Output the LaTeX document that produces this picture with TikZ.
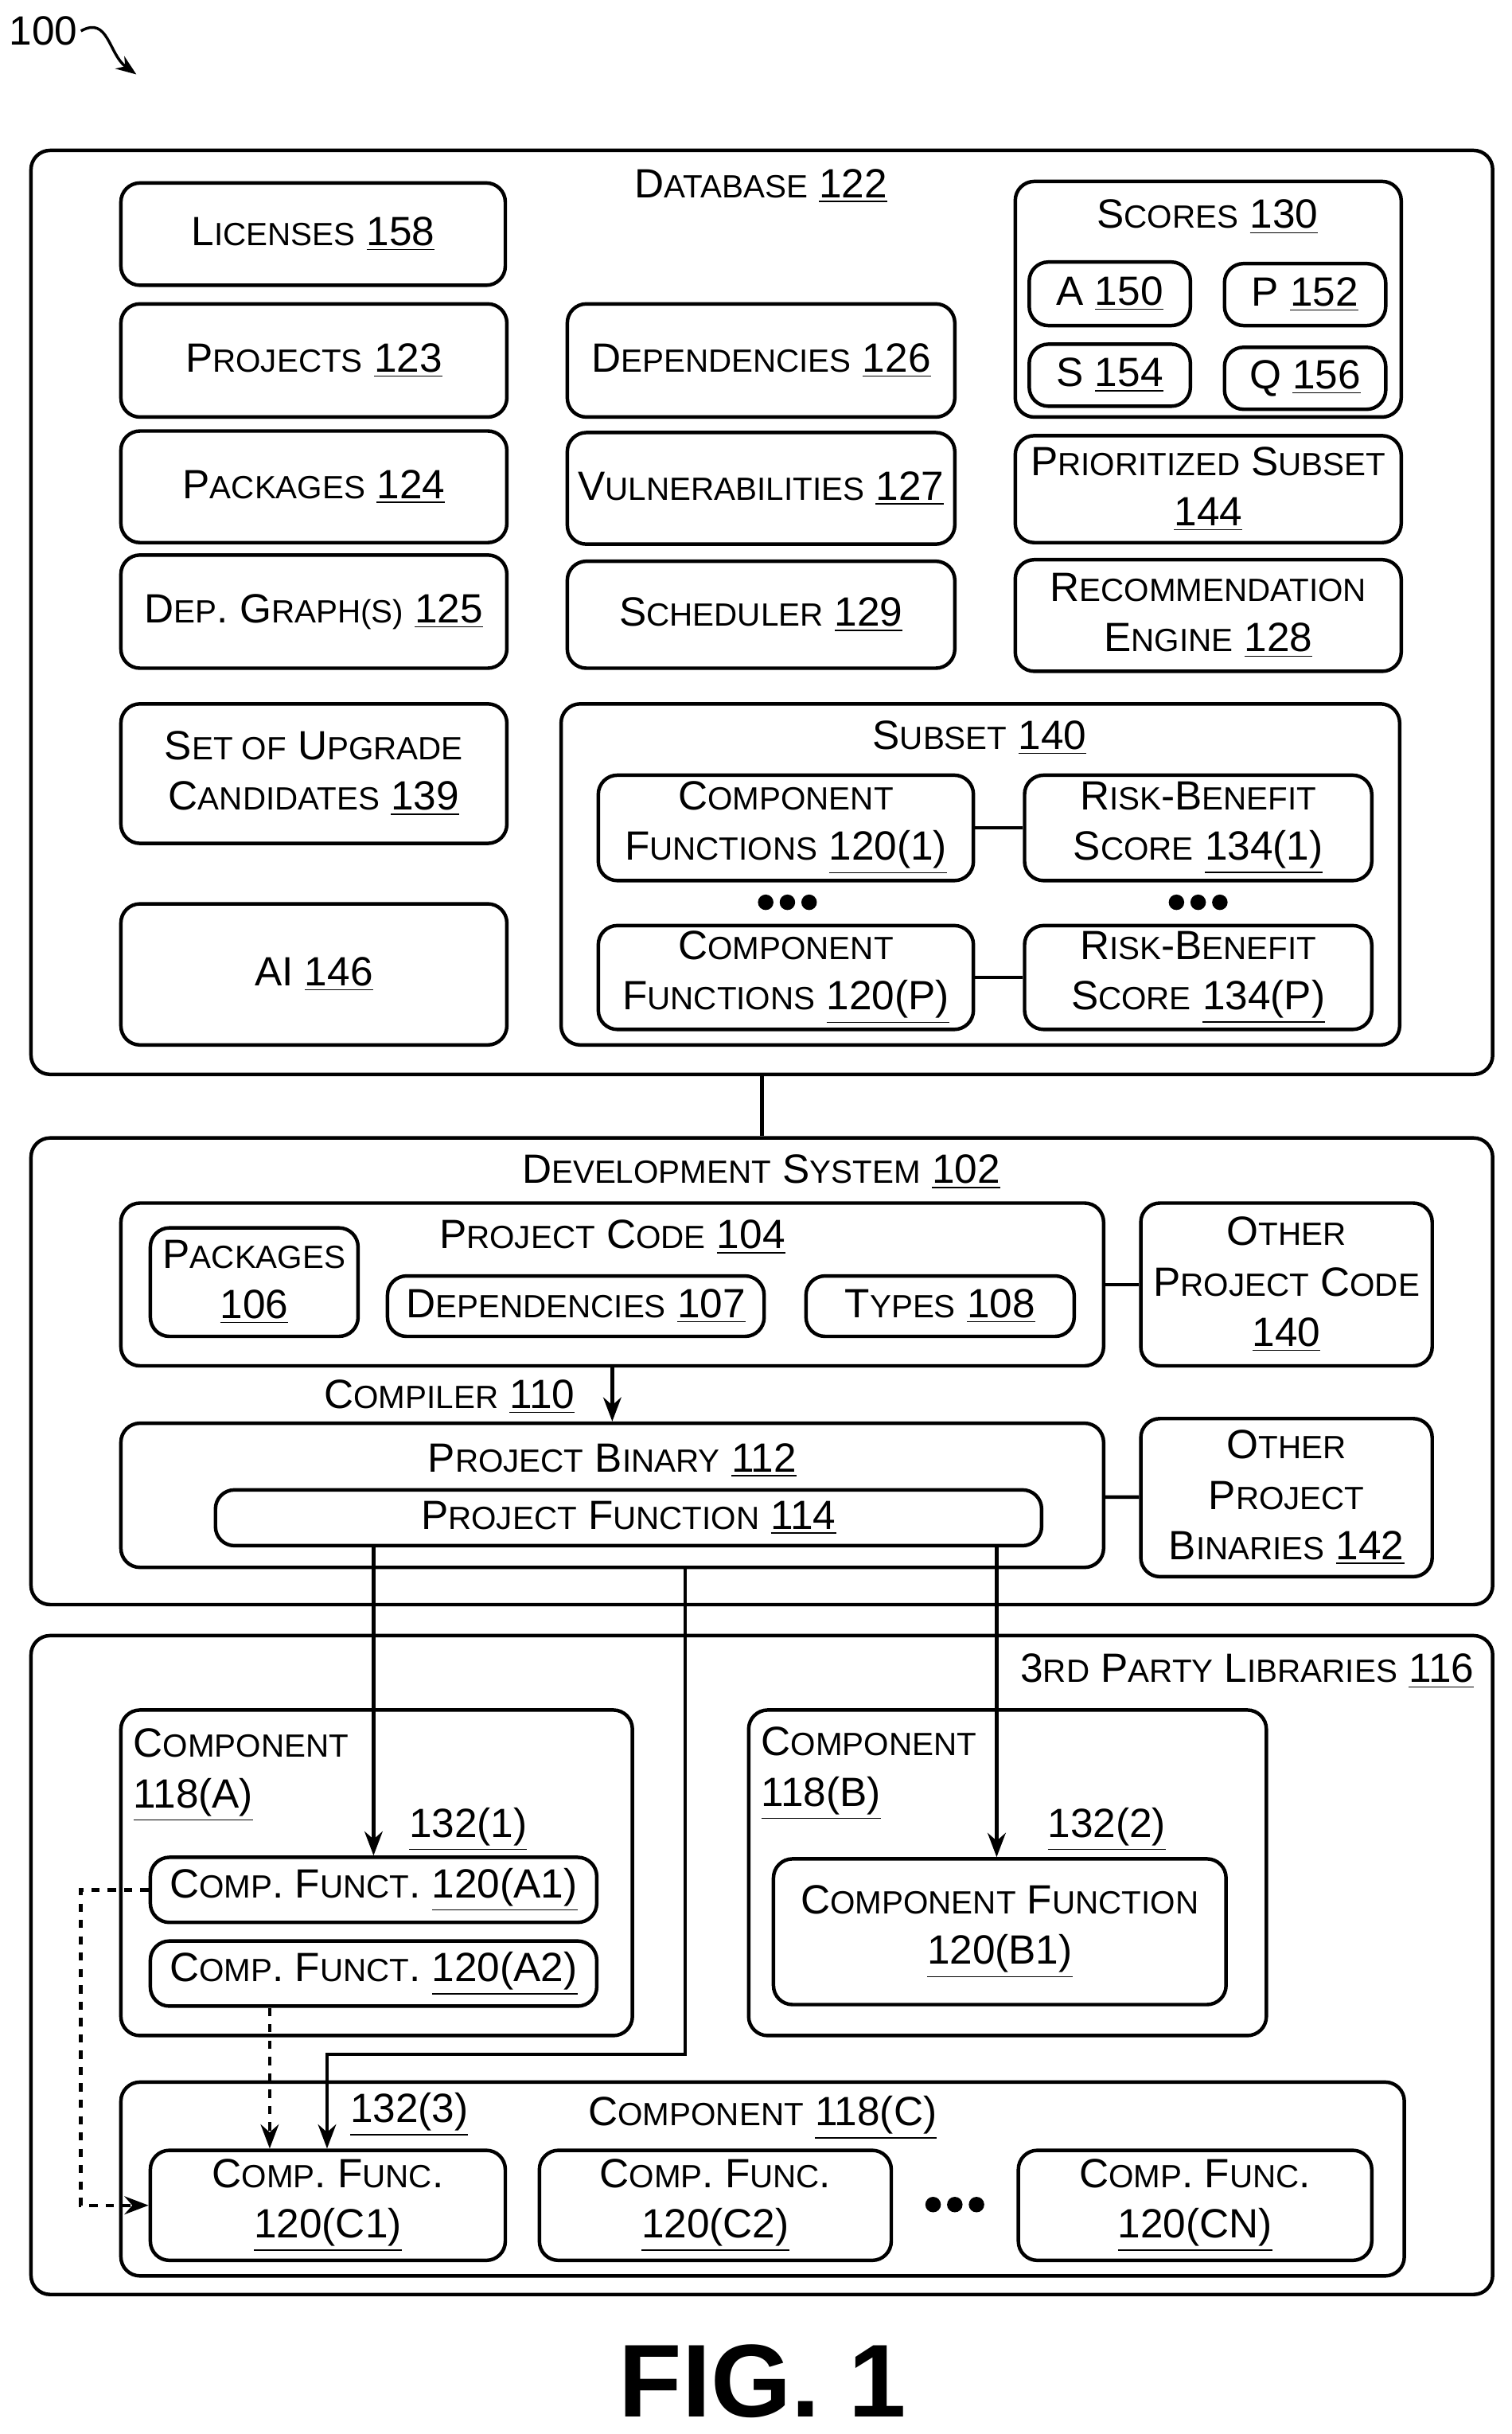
\documentclass[tikz,border=0pt]{standalone}
\usepackage{fontspec}
\setmainfont{Liberation Sans}
\usetikzlibrary{fit,arrows.meta}
\newcommand\Sm[1]{{\fontsize{11.8}{14}\selectfont\MakeUppercase{#1}}}
\newcommand\un[1]{\underline{#1}}
\tikzset{
  box/.style={draw, rounded corners=7pt, line width=1.3pt, inner sep=0pt},
  txt/.style={font=\fontsize{15}{18.5}\selectfont, align=center, inner sep=1pt},
  wire/.style={line width=1.3pt},
}
% box from two corners, text at its centre
\newcommand\bx[6]{\node[box, fit={(#2,#3) (#4,#5)}] (#1) {};
  \node[txt] (#1-t) at (#1.center) {#6};}
\begin{document}
\begin{tikzpicture}[x=0.02cm, y=-0.02cm, >=Stealth, font=\fontsize{15}{18.5}\selectfont]
\useasboundingbox (0,0) rectangle (975,1570);

\node[txt, anchor=west] (fignum) at (4,20) {100};
\coordinate (figtip) at (88,48);
\draw[wire, line width=1pt, ->] (fignum.east) .. controls (70,10) and (70,35) .. (figtip);

% database
\bx{db}{20}{97}{963}{693}{}
\node[txt] (dblabel) at (491,120) {D\Sm{atabase} \un{122}};
\bx{lic}{78}{118}{326}{184}{L\Sm{icenses} \un{158}}
\bx{proj}{78}{196}{327}{269}{P\Sm{rojects} \un{123}}
\bx{pkg}{78}{278}{327}{350}{P\Sm{ackages} \un{124}}
\bx{dep}{78}{358}{327}{431}{D\Sm{ep}. G\Sm{raph(s)} \un{125}}
\bx{upg}{78}{454}{327}{544}{S\Sm{et of} U\Sm{pgrade}\\C\Sm{andidates} \un{139}}
\bx{ai}{78}{583}{327}{674}{AI \un{146}}
\bx{deps}{366}{196}{616}{269}{D\Sm{ependencies} \un{126}}
\bx{vuln}{366}{279}{616}{351}{V\Sm{ulnerabilities} \un{127}}
\bx{sched}{366}{362}{616}{431}{S\Sm{cheduler} \un{129}}
\bx{scores}{655}{117}{904}{269}{}
\node[txt] (scoreslabel) at (779,140) {S\Sm{cores} \un{130}};
\bx{sa}{664}{169}{768}{210}{A \un{150}}
\bx{sp}{790}{170}{894}{210}{P \un{152}}
\bx{ss}{664}{222}{768}{262}{S \un{154}}
\bx{sq}{790}{224}{894}{264}{Q \un{156}}
\bx{prio}{655}{281}{904}{350}{P\Sm{rioritized} S\Sm{ubset}\\\un{144}}
\bx{reco}{655}{361}{904}{433}{R\Sm{ecommendation}\\E\Sm{ngine} \un{128}}
\bx{subset}{362}{454}{903}{674}{}
\node[txt] (subsetlabel) at (632,476) {S\Sm{ubset} \un{140}};
\bx{cf1}{386}{500}{628}{568}{C\Sm{omponent}\\F\Sm{unctions} \un{120(1)}}
\bx{rb1}{661}{500}{885}{568}{R\Sm{isk}-B\Sm{enefit}\\S\Sm{core} \un{134(1)}}
\bx{cfp}{386}{597}{628}{664}{C\Sm{omponent}\\F\Sm{unctions} \un{120(P)}}
\bx{rbp}{661}{597}{885}{664}{R\Sm{isk}-B\Sm{enefit}\\S\Sm{core} \un{134(P)}}
\draw[wire] (cf1) -- (rb1);
\draw[wire] (cfp) -- (rbp);
\foreach \x in {508,773}
  \foreach \d in {-14,0,14}
    \fill (\x+\d,582) circle (5);

% development system
\bx{dev}{20}{734}{963}{1035}{}
\draw[wire] (db.south) -- (dev.north);
\node[txt] (devlabel) at (491,756) {D\Sm{evelopment} S\Sm{ystem} \un{102}};
\bx{pcode}{78}{776}{712}{881}{}
\node[txt] (pcodelabel) at (395,798) {P\Sm{roject} C\Sm{ode} \un{104}};
\bx{pkgs}{97}{792}{231}{862}{P\Sm{ackages}\\\un{106}}
\bx{deps107}{250}{823}{493}{862}{D\Sm{ependencies} \un{107}}
\bx{types}{520}{823}{693}{862}{T\Sm{ypes} \un{108}}
\bx{opc}{736}{776}{924}{881}{O\Sm{ther}\\P\Sm{roject} C\Sm{ode}\\\un{140}}
\draw[wire] (pcode) -- (opc);
\bx{pbin}{78}{918}{712}{1011}{}
\node[txt] (pbinlabel) at (395,942) {P\Sm{roject} B\Sm{inary} \un{112}};
\draw[wire, ->] (pcode.south -| pbinlabel) -- (pbin.north -| pbinlabel);
\node[txt] (compiler) at (290,901) {C\Sm{ompiler} \un{110}};
\bx{pfun}{139}{961}{672}{997}{P\Sm{roject} F\Sm{unction} \un{114}}
\bx{opb}{736}{915}{924}{1017}{O\Sm{ther}\\P\Sm{roject}\\B\Sm{inaries} \un{142}}
\draw[wire] (pbin) -- (opb);

% third party libraries
\bx{lib}{20}{1055}{963}{1480}{}
\node[txt, anchor=east] (liblabel) at (953,1078) {3\Sm{rd} P\Sm{arty} L\Sm{ibraries} \un{116}};
\bx{compa}{78}{1103}{408}{1313}{}
\node[txt, anchor=north west, align=left] (compalabel) at (84,1113) {C\Sm{omponent}\\\un{118(A)}};
\bx{ca1}{97}{1198}{385}{1240}{C\Sm{omp}. F\Sm{unct}. \un{120(A1)}}
\bx{ca2}{97}{1252}{385}{1294}{C\Sm{omp}. F\Sm{unct}. \un{120(A2)}}
\bx{compb}{483}{1103}{817}{1313}{}
\node[txt, anchor=north west, align=left] (compblabel) at (489,1112) {C\Sm{omponent}\\\un{118(B)}};
\bx{cb1}{499}{1199}{791}{1293}{C\Sm{omponent} F\Sm{unction}\\\un{120(B1)}}
\bx{compc}{78}{1343}{906}{1468}{}
\node[txt] (compclabel) at (492,1366) {C\Sm{omponent} \un{118(C)}};
\bx{cc1}{97}{1387}{326}{1458}{C\Sm{omp}. F\Sm{unc}.\\\un{120(C1)}}
\bx{cc2}{348}{1387}{575}{1458}{C\Sm{omp}. F\Sm{unc}.\\\un{120(C2)}}
\bx{ccn}{657}{1387}{885}{1458}{C\Sm{omp}. F\Sm{unc}.\\\un{120(CN)}}
\foreach \d in {-14,0,14}
  \fill (616+\d,1422) circle (5);

% calls
\coordinate (c1) at (241,0);
\coordinate (c2) at (643,0);
\coordinate (c3) at (442,0);
\coordinate (c3a) at (211,0);
\coordinate (dl) at (52,0);
\coordinate (da) at (174,0);
\draw[wire, ->] (pfun.south -| c1) -- (ca1.north -| c1);
\node[txt] (l1) at (302,1180) {\un{132(1)}};
\draw[wire, ->] (pfun.south -| c2) -- (cb1.north -| c2);
\node[txt] (l2) at (714,1180) {\un{132(2)}};
\draw[wire, ->] (pbin.south -| c3) -- (c3 |- 0,1325) -- (c3a |- 0,1325) -- (cc1.north -| c3a);
\node[txt] (l3) at (264,1364) {\un{132(3)}};
\draw[wire, dashed, ->] (ca1.west) -- (dl |- ca1.west) -- (dl |- cc1.west) -- (cc1.west);
\draw[wire, dashed, ->] (ca2.south -| da) -- (cc1.north -| da);

\node[font=\fontsize{38}{44}\selectfont\bfseries] (fig) at (492,1536) {FIG. 1};
\end{tikzpicture}
\end{document}
